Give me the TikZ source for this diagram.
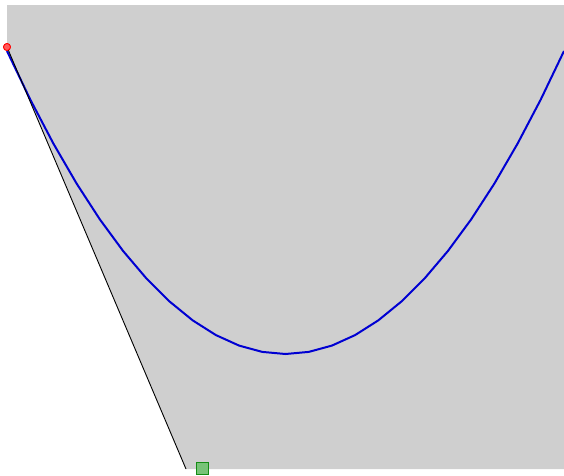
\documentclass[tikz,border=0pt]{standalone}
\begin{document}
\begin{tikzpicture}[x=1pt,y=-1pt,
  region/.style={fill=black!19,draw=none},
  edgeline/.style={black,line width=0.9pt},
  curve/.style={draw={rgb,255:red,0;green,0;blue,210},line width=2pt,line join=round},
  redpt/.style={circle,inner sep=0pt,minimum size=7pt,fill={rgb,255:red,255;green,90;blue,90},draw=red,line width=0.8pt},
  greenpt/.style={rectangle,inner sep=0pt,minimum size=12pt,fill={rgb,255:red,120;green,195;blue,120},draw={rgb,255:red,20;green,140;blue,20},line width=0.8pt}]
\useasboundingbox (0,0) rectangle (564,475);
\fill[region] (7,5) -- (564,5) -- (564,469) -- (186,469) -- (7,47) -- cycle;
\coordinate (foot) at (186,469);
\draw[curve] plot[domain=7:564,samples=25] (\x,{354-0.003902*(\x-285.5)*(\x-285.5)});
\node[redpt] (p) at (7,47) {};
\draw[edgeline] (p.center) -- (foot);
\node[redpt] at (7,47) {};
\node[greenpt] (q) at (202,468) {};
\end{tikzpicture}
\end{document}
